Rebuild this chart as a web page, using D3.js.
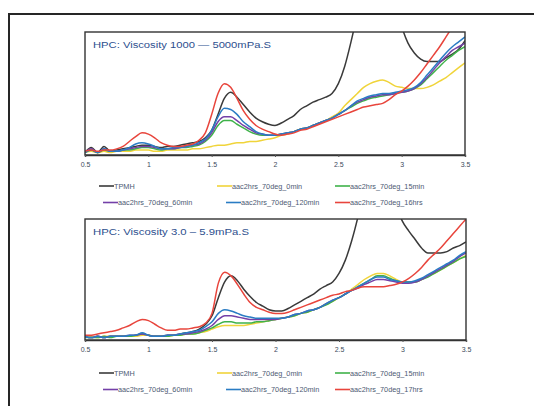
<!DOCTYPE html>
<html>
<head>
<meta charset="utf-8">
<script src="https://cdn.jsdelivr.net/npm/d3@7"></script>
<style>
  html, body { margin: 0; padding: 0; background: #fff; }
  svg { display: block; }
  text { font-family: "Liberation Sans", Arial, sans-serif; }
</style>
</head>
<body>
<svg id="chart" width="534" height="406"></svg>
<script>
// Wavelength grid shared by every spectrum (µm)
const xValues = [0.5,0.55,0.6,0.65,0.7,0.75,0.8,0.85,0.9,0.95,1.0,1.05,1.1,1.15,1.2,1.25,1.3,1.35,1.4,1.45,
  1.5,1.55,1.6,1.65,1.7,1.75,1.8,1.85,1.9,1.95,2.0,2.05,2.1,2.15,2.2,2.25,2.3,2.35,2.4,2.45,
  2.5,2.55,2.6,2.65,2.7,2.75,2.8,2.85,2.9,2.95,3.0,3.05,3.1,3.15,3.2,3.25,3.3,3.35,3.4,3.45,3.5];

const xTicks = [0.5, 1, 1.5, 2, 2.5, 3, 3.5];
const xTickLabels = ["0.5", "1", "1.5", "2", "2.5", "3", "3.5"];

const seriesColors = ["#3a3a3a", "#f0d43a", "#3fb24a", "#7440a8", "#2a7cc4", "#e8453c"];

// Upper panel: HPC, viscosity 1000–5000 mPa.s
const topTitle = "HPC: Viscosity 1000 \u2014 5000mPa.S";
const topNames = ["TPMH", "aac2hrs_70deg_0min", "aac2hrs_70deg_15min", "aac2hrs_70deg_60min", "aac2hrs_70deg_120min", "aac2hrs_70deg_16hrs"];
const topTPMH = [2,6,2,7,3,4,5,6,7,8,8,7,6,7,7,8,9,10,11,14,
  20,33,46,51,47,41,35,30,27,25,24,26,29,32,37,40,43,45,47,50,
  58,72,92,115,140,160,170,168,155,130,105,91,83,78,76,76,76,79,82,86,93];
const top0min = [2,3,2,3,2,3,3,3,4,4,4,3,3,4,4,4,4,5,5,6,
  7,8,8,9,10,10,11,11,12,13,14,16,17,19,21,22,24,26,28,31,
  34,40,45,50,55,58,60,61,59,56,55,54,54,54,55,57,60,63,67,71,75];
const top15min = [2,4,2,4,3,3,4,4,5,6,6,5,4,5,5,6,6,7,8,11,
  16,24,28,28,25,22,19,17,16,16,16,17,18,19,21,22,24,26,28,30,
  33,36,39,42,44,46,47,48,49,50,51,52,54,57,62,67,72,77,81,85,88];
const top60min = [2,5,2,5,3,3,4,5,6,7,7,6,5,5,5,6,7,8,9,12,
  18,27,31,31,28,24,21,18,17,16,16,17,18,19,21,22,24,26,28,30,
  33,36,40,43,45,47,48,49,49,50,51,52,54,58,63,69,75,80,85,88,91];
const top120min = [2,4,2,5,3,3,4,6,9,10,9,7,5,5,6,6,7,8,10,13,
  20,31,38,37,33,27,23,19,17,16,16,17,18,19,21,22,24,26,28,30,
  33,36,40,44,46,48,49,50,50,51,52,53,55,59,65,71,77,83,88,92,96];
const top16hrs = [3,4,3,4,4,5,7,11,15,18,17,14,10,8,7,7,8,9,12,18,
  33,50,58,55,46,36,29,24,21,19,17,16,17,18,20,21,23,25,27,29,
  31,33,35,37,39,40,41,42,45,49,52,56,61,67,74,81,88,96,104,112,120];

// Lower panel: HPC, viscosity 3.0–5.9 mPa.s
const bottomTitle = "HPC: Viscosity 3.0 \u2013 5.9mPa.S";
const bottomNames = ["TPMH", "aac2hrs_70deg_0min", "aac2hrs_70deg_15min", "aac2hrs_70deg_60min", "aac2hrs_70deg_120min", "aac2hrs_70deg_17hrs"];
const botTPMH = [3,2,3,2,3,3,3,3,4,5,4,3,3,4,4,5,6,7,9,13,
  20,35,48,53,49,42,36,31,28,25,24,24,26,29,32,35,38,42,45,48,
  55,66,82,102,125,145,155,150,135,112,98,90,83,76,72,72,72,73,76,78,81];
const bot0min = [3,3,2,3,3,3,3,3,3,4,4,3,3,3,4,4,5,5,6,7,
  9,11,12,12,12,12,13,14,15,16,17,18,19,20,22,23,25,27,30,32,
  35,38,42,46,50,53,55,55,53,50,48,48,48,50,53,55,58,61,64,67,70];
const bot15min = [2,2,2,3,2,3,3,3,4,5,4,3,3,3,4,4,5,5,6,8,
  10,13,15,15,14,14,14,15,15,16,17,18,19,20,22,23,25,27,29,32,
  35,38,41,44,47,50,53,53,51,49,48,48,48,50,52,55,58,61,64,67,69];
const bot60min = [3,2,3,2,3,3,3,4,4,5,4,3,3,4,4,5,5,6,7,9,
  12,17,20,20,19,18,17,17,17,17,17,18,19,21,22,24,25,27,30,33,
  35,38,41,43,46,48,50,50,49,48,47,47,48,50,53,56,59,62,65,69,72];
const bot120min = [3,2,3,2,3,3,3,4,4,6,4,3,3,4,4,5,6,7,8,11,
  15,22,25,24,22,20,19,18,18,18,18,18,19,21,22,24,25,27,30,33,
  35,38,41,44,47,50,52,52,50,49,48,48,49,51,54,57,60,63,66,70,73];
const bot17hrs = [4,4,5,6,7,8,10,12,15,17,16,13,10,8,8,9,9,10,11,14,
  22,47,56,53,46,38,31,27,25,23,22,22,23,25,27,29,31,33,35,37,
  38,40,41,43,44,44,44,44,45,46,48,51,55,60,66,71,76,82,88,94,100];

const svg = d3.select("#chart");

// Outer frame that encloses both panels
svg.append("rect")
  .attr("x", 9).attr("y", 14).attr("width", 540).attr("height", 410)
  .attr("fill", "none").attr("stroke", "#262626").attr("stroke-width", 2);

function drawPanel(cfg) {
  const { top, bottom, left, right, title, names, series, legendY, id } = cfg;
  const x = d3.scaleLinear().domain([0.5, 3.5]).range([left, right]);
  const y = d3.scaleLinear().domain([0, 100]).range([bottom, top]);

  const g = svg.append("g");

  g.append("clipPath").attr("id", id)
    .append("rect").attr("x", left).attr("y", top)
    .attr("width", right - left).attr("height", bottom - top);

  const line = d3.line()
    .x((d, i) => x(xValues[i]))
    .y(d => y(d))
    .curve(d3.curveMonotoneX);

  const lines = g.append("g").attr("clip-path", `url(#${id})`);
  // draw in legend order so the black reference spectrum stays underneath
  series.forEach((vals, k) => {
    lines.append("path")
      .attr("d", line(vals))
      .attr("fill", "none")
      .attr("stroke", seriesColors[k])
      .attr("stroke-width", 1.5)
      .attr("stroke-linejoin", "round");
  });

  // plot frame
  g.append("rect")
    .attr("x", left).attr("y", top)
    .attr("width", right - left).attr("height", bottom - top)
    .attr("fill", "none").attr("stroke", "#333").attr("stroke-width", 1.4);

  // x axis
  const axis = d3.axisBottom(x)
    .tickValues(xTicks)
    .tickFormat((d, i) => xTickLabels[i])
    .tickSize(2)
    .tickPadding(5);
  const ax = g.append("g").attr("transform", `translate(0,${bottom})`).call(axis);
  ax.select(".domain").attr("stroke", "#333").attr("stroke-width", 1.4);
  ax.selectAll(".tick line").attr("stroke", "#555");
  ax.selectAll(".tick text")
    .attr("font-size", 7).attr("fill", "#3c4a5c")
    .attr("font-family", "Liberation Sans, Arial, sans-serif");

  g.append("text")
    .attr("x", left + 8).attr("y", top + 16)
    .attr("font-size", 9.6).attr("fill", "#2d4f8e")
    .attr("textLength", cfg.titleWidth).attr("lengthAdjust", "spacingAndGlyphs")
    .text(title);

  // legend: two rows of three entries
  const legendPos = [[99, 0], [217, 0], [335, 0], [103, 1], [226, 1], [335, 1]];
  names.forEach((name, k) => {
    const [lx, row] = legendPos[k];
    const ly = legendY + row * 16.5;
    g.append("line")
      .attr("x1", lx).attr("x2", lx + 15).attr("y1", ly).attr("y2", ly)
      .attr("stroke", seriesColors[k]).attr("stroke-width", 1.6);
    g.append("text")
      .attr("x", lx + 15).attr("y", ly + 2.5)
      .attr("font-size", 7.3).attr("fill", "#4d5a73")
      .text(name);
  });
}

drawPanel({
  id: "clipTop", top: 32, bottom: 155, left: 85, right: 465,
  title: topTitle, titleWidth: 178, names: topNames,
  series: [topTPMH, top0min, top15min, top60min, top120min, top16hrs],
  legendY: 186
});

drawPanel({
  id: "clipBottom", top: 219, bottom: 340, left: 85, right: 466,
  title: bottomTitle, titleWidth: 156, names: bottomNames,
  series: [botTPMH, bot0min, bot15min, bot60min, bot120min, bot17hrs],
  legendY: 373
});
</script>
</body>
</html>
